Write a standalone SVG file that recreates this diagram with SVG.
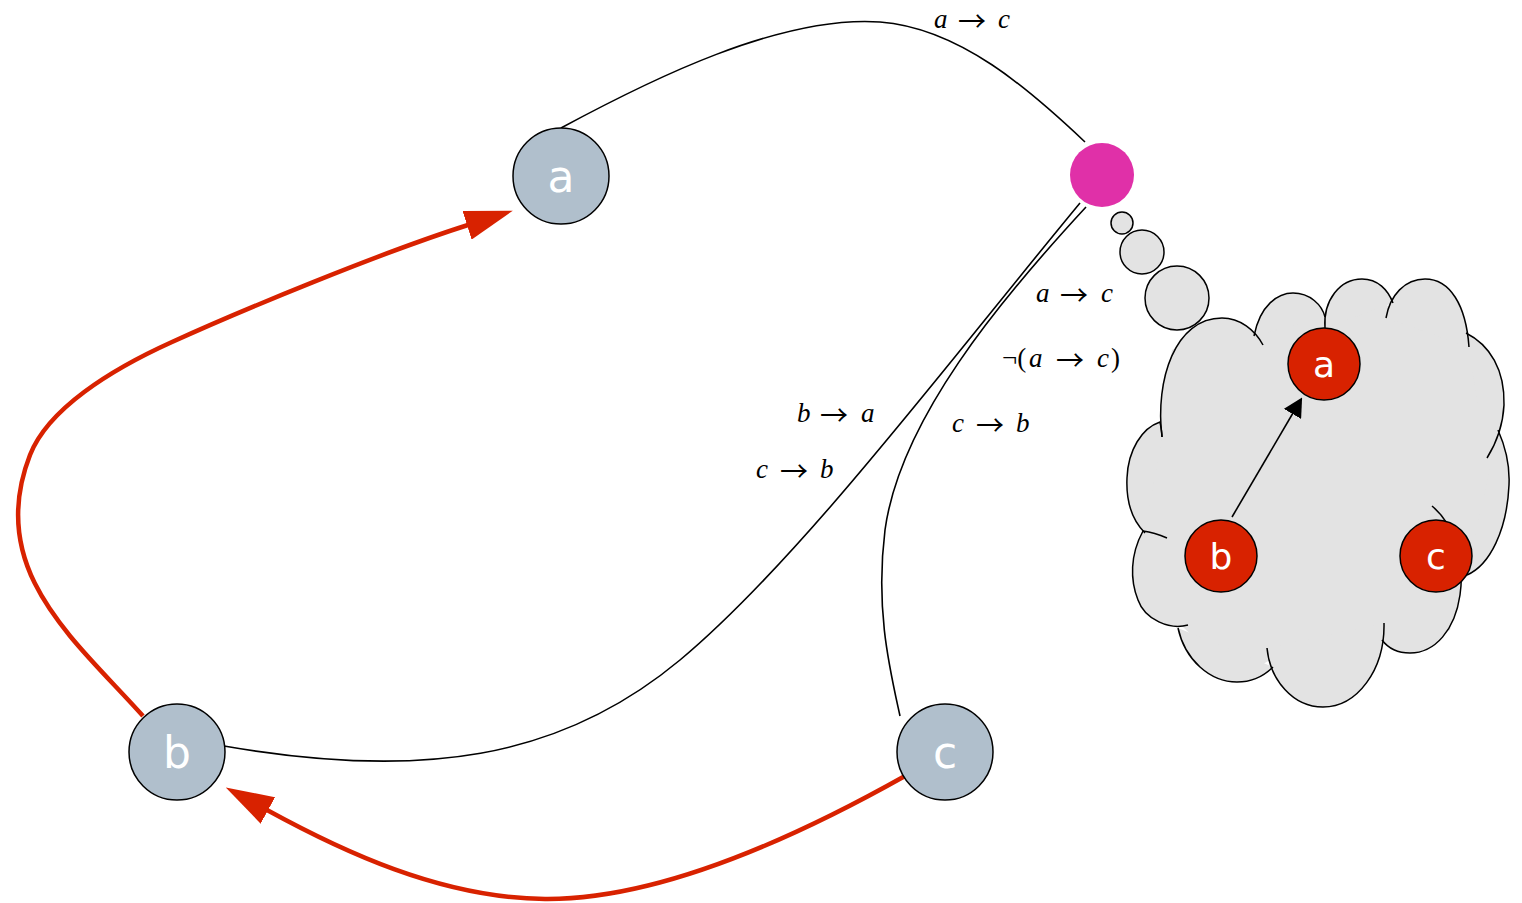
<svg xmlns="http://www.w3.org/2000/svg" width="1522" height="903" viewBox="0 0 1522 903">
<style>
.gn{fill:#b0bfcc;stroke:#000;stroke-width:1.5}
.rn{fill:#d82200;stroke:#000;stroke-width:1.5}
.gl{fill:#fff;font-family:"DejaVu Sans",sans-serif;font-size:44px;text-anchor:middle}
.rl{fill:#fff;font-family:"DejaVu Sans",sans-serif;font-size:36px;text-anchor:middle}
.edge{fill:none;stroke:#000;stroke-width:1.6}
.red{fill:none;stroke:#d82200;stroke-width:4.5}
.lbl{font-family:"Liberation Serif",serif;font-style:italic;font-size:27px;fill:#000}
.ar{font-family:"Noto Sans CJK JP",sans-serif;font-style:normal;font-size:28px}
.up{font-style:normal}
.cf{fill:#e3e3e3;stroke:none}
.cs{fill:none;stroke:#000;stroke-width:1.5}
.bub{fill:#e3e3e3;stroke:#000;stroke-width:1.5}
</style>
<defs>
<marker id="ra" markerUnits="userSpaceOnUse" viewBox="0 0 48 30" refX="1" refY="15" markerWidth="48" markerHeight="30" orient="auto"><path d="M0,0 L48,15 L0,30 Z" fill="#d82200"/></marker>
<marker id="ba" markerUnits="userSpaceOnUse" viewBox="0 0 19 20" refX="1" refY="10" markerWidth="19" markerHeight="20" orient="auto"><path d="M0,0 L19,10 L0,20 Z" fill="#000"/></marker>
</defs>
<g id="connectors">
<path class="edge" d="M561,128 C650,80 780,15 880,22 C960,28 1030,90 1085,142"/>
<path class="edge" d="M1080,203 C950,360 800,560 680,660 C560,760 420,780 224,746"/>
<path class="edge" d="M1086,207 C1000,300 900,420 885,530 C875,610 890,670 900,716"/>
<path class="red" marker-end="url(#ra)" d="M143,716 C75,640 -15,570 30,455 C48,409 110,370 172,342 C240,311 380,253 468,225"/>
<path class="red" marker-end="url(#ra)" d="M905,776 C800,835 660,900 545,899 C440,898 340,850 267,810"/>
<text class="lbl" y="28"><tspan x="934">a</tspan><tspan class="ar" x="958" dy="4">→</tspan><tspan x="998" dy="-4">c</tspan></text>
<text class="lbl" y="302"><tspan x="1036">a</tspan><tspan class="ar" x="1060" dy="4">→</tspan><tspan x="1101" dy="-4">c</tspan></text>
<text class="lbl" y="367"><tspan class="up" x="1002">¬(</tspan><tspan x="1029">a</tspan><tspan class="ar" x="1056" dy="4">→</tspan><tspan x="1097" dy="-4">c</tspan><tspan class="up" x="1111">)</tspan></text>
<text class="lbl" y="422"><tspan x="797">b</tspan><tspan class="ar" x="820" dy="4">→</tspan><tspan x="861" dy="-4">a</tspan></text>
<text class="lbl" y="432"><tspan x="952">c</tspan><tspan class="ar" x="976" dy="4">→</tspan><tspan x="1016" dy="-4">b</tspan></text>
<text class="lbl" y="478"><tspan x="756">c</tspan><tspan class="ar" x="780" dy="4">→</tspan><tspan x="820" dy="-4">b</tspan></text>
</g>
<g id="node-a"><circle class="gn" cx="561" cy="176" r="48"/><text class="gl" x="561" y="192">a</text></g>
<g id="node-b"><circle class="gn" cx="177" cy="752" r="48"/><text class="gl" x="177" y="768">b</text></g>
<g id="node-c"><circle class="gn" cx="945" cy="752" r="48"/><text class="gl" x="945" y="768">c</text></g>
<g id="node-x"><circle cx="1102" cy="175" r="32" fill="#e030a8"/></g>
<g id="thought">
<polygon class="cf" points="1161,425 1172,350 1220,321 1254,334 1293,296 1324,315 1362,282 1390,308 1425,282 1462,318 1468,340 1501,400 1495,440 1506,490 1462,575 1450,630 1410,650 1384,640 1323,704 1270,660 1237,679 1183,627 1136,585 1145,532 1128,478"/>
<path class="cf" d="M1162,437 C1155,380 1175,318 1222,318 C1240,318 1255,330 1263,345 Z"/>
<path class="cf" d="M1254,336 C1260,305 1278,293 1293,293 C1310,293 1322,305 1325,317 Z"/>
<path class="cf" d="M1325,328 C1323,300 1340,279 1362,279 C1378,279 1388,290 1393,303 Z"/>
<path class="cf" d="M1386,318 C1390,295 1405,279 1425,279 C1450,279 1466,305 1469,347 Z"/>
<path class="cf" d="M1466,333 C1490,345 1505,370 1504,405 C1503,425 1497,442 1487,458 Z"/>
<path class="cf" d="M1498,430 C1506,448 1510,465 1509,485 C1507,530 1490,565 1467,575 Z"/>
<path class="cf" d="M1432,506 C1455,525 1465,560 1460,595 C1455,630 1435,653 1410,653 C1398,653 1388,648 1382,640 Z"/>
<path class="cf" d="M1384,623 C1385,670 1357,707 1323,707 C1293,707 1270,680 1267,648 Z"/>
<path class="cf" d="M1273,667 C1263,677 1250,682 1237,682 C1210,682 1185,660 1178,628 Z"/>
<path class="cf" d="M1188,625 C1170,630 1145,620 1138,600 C1130,580 1130,555 1143,531 C1150,532 1160,535 1167,538 Z"/>
<path class="cf" d="M1145,533 C1132,520 1126,500 1127,478 C1128,450 1142,428 1160,422 C1161,428 1162,432 1162,437 Z"/>
<path class="cs" d="M1162,437 C1155,380 1175,318 1222,318 C1240,318 1255,330 1263,345"/>
<path class="cs" d="M1254,336 C1260,305 1278,293 1293,293 C1310,293 1322,305 1325,317"/>
<path class="cs" d="M1325,328 C1323,300 1340,279 1362,279 C1378,279 1388,290 1393,303"/>
<path class="cs" d="M1386,318 C1390,295 1405,279 1425,279 C1450,279 1466,305 1469,347"/>
<path class="cs" d="M1466,333 C1490,345 1505,370 1504,405 C1503,425 1497,442 1487,458"/>
<path class="cs" d="M1498,430 C1506,448 1510,465 1509,485 C1507,530 1490,565 1467,575"/>
<path class="cs" d="M1432,506 C1455,525 1465,560 1460,595 C1455,630 1435,653 1410,653 C1398,653 1388,648 1382,640"/>
<path class="cs" d="M1384,623 C1385,670 1357,707 1323,707 C1293,707 1270,680 1267,648"/>
<path class="cs" d="M1273,667 C1263,677 1250,682 1237,682 C1210,682 1185,660 1178,628"/>
<path class="cs" d="M1188,625 C1170,630 1145,620 1138,600 C1130,580 1130,555 1143,531 C1150,532 1160,535 1167,538"/>
<path class="cs" d="M1145,533 C1132,520 1126,500 1127,478 C1128,450 1142,428 1160,422 C1161,428 1162,432 1162,437"/>
<circle class="bub" cx="1122" cy="223" r="11"/>
<circle class="bub" cx="1142" cy="252" r="22"/>
<circle class="bub" cx="1177" cy="298" r="32"/>
</g>
<g id="inner-connectors">
<path class="edge" marker-end="url(#ba)" d="M1232,517 L1293,413"/>
</g>
<g id="inner-a"><circle class="rn" cx="1324" cy="364" r="36"/><text class="rl" x="1324" y="377">a</text></g>
<g id="inner-b"><circle class="rn" cx="1221" cy="556" r="36"/><text class="rl" x="1221" y="569">b</text></g>
<g id="inner-c"><circle class="rn" cx="1436" cy="556" r="36"/><text class="rl" x="1436" y="569">c</text></g>
</svg>
